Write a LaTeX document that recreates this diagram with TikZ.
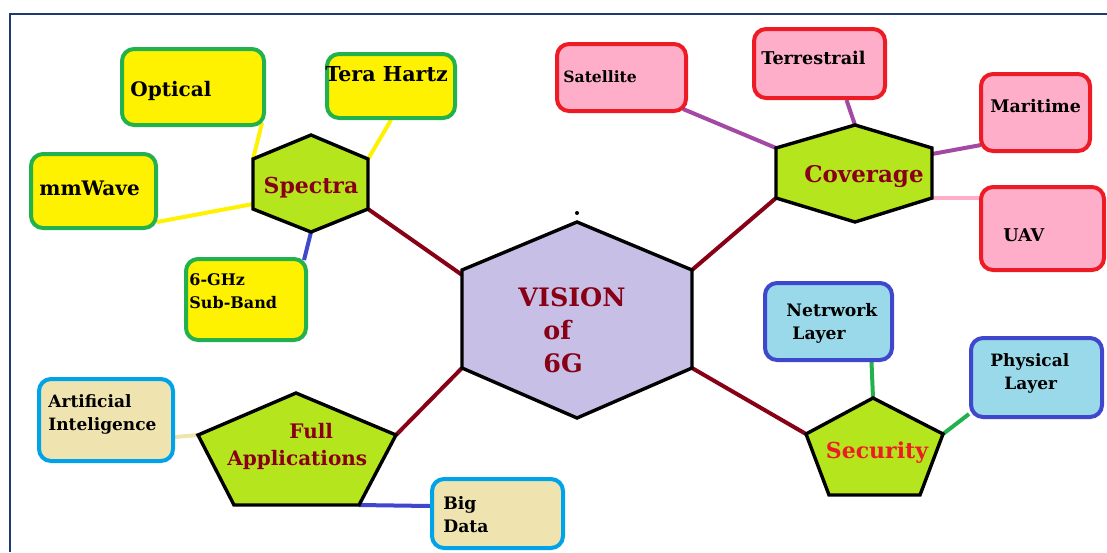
\documentclass[tikz,border=0pt]{standalone}
\usepackage{fontspec}
\setmainfont{DejaVu Serif}
\usetikzlibrary{calc, backgrounds}
\definecolor{paintyellow}{HTML}{FFF200}
\definecolor{paintgreen}{HTML}{22B14C}
\definecolor{paintpink}{HTML}{FFAEC9}
\definecolor{paintred}{HTML}{ED1C24}
\definecolor{painttur}{HTML}{99D9EA}
\definecolor{paintindigo}{HTML}{3F48CC}
\definecolor{painttan}{HTML}{EFE4B0}
\definecolor{paintsky}{HTML}{00A2E8}
\definecolor{paintlime}{HTML}{B5E61D}
\definecolor{paintlavender}{HTML}{C8BFE7}
\definecolor{paintmaroon}{HTML}{880015}
\definecolor{paintpurple}{HTML}{A349A4}
\definecolor{framenavy}{HTML}{1F3A6E}

\begin{document}
\begin{tikzpicture}[
    x=0.5pt, y=-0.5pt,
    leafbox/.style={rectangle, rounded corners=6pt, line width=2pt, inner sep=0pt},
    spectrabox/.style={leafbox, draw=paintgreen, fill=paintyellow},
    coverbox/.style={leafbox, draw=paintred, fill=paintpink},
    appbox/.style={leafbox, draw=paintsky, fill=painttan},
    securebox/.style={leafbox, draw=paintindigo, fill=painttur},
    hubshape/.style={draw=black, line width=1.7pt, fill=paintlime, line join=miter},
    leaftext/.style={anchor=base west, inner sep=0pt, align=left, font=\fontsize{#1}{11.5}\selectfont\bfseries},
    hubtext/.style 2 args={inner sep=0pt, text=paintmaroon, font=\fontsize{#1}{#2}\selectfont\bfseries},
    link/.style={line width=2pt}
]
\useasboundingbox (0,0) rectangle (1107,552);
\draw[framenavy, line width=1pt] (10,552) -- (10,14) -- (1107,14);

% hub shapes
\draw[hubshape, fill=paintlavender] (462,270) coordinate (vis-ul) -- (577,222) coordinate (vis-t) -- (692,270) coordinate (vis-ur)
    -- (692,368) coordinate (vis-lr) -- (577,418) coordinate (vis-b) -- (462,368) coordinate (vis-ll) -- cycle;
\fill (577,213) circle (1pt);
\draw[hubshape] (253,159) coordinate (spe-ul) -- (311,135) coordinate (spe-t) -- (368,159) coordinate (spe-ur)
    -- (368,209) coordinate (spe-lr) -- (311,232) coordinate (spe-b) -- (253,209) coordinate (spe-ll) -- cycle;
\draw[hubshape] (776,148) coordinate (cov-ul) -- (855,125) coordinate (cov-t) -- (932,148) coordinate (cov-ur)
    -- (932,198) coordinate (cov-lr) -- (855,222) coordinate (cov-b) -- (776,198) coordinate (cov-ll) -- cycle;
\draw[hubshape] (198,435) coordinate (fa-ul) -- (296,393) coordinate (fa-t) -- (396,435) coordinate (fa-ur)
    -- (359,505) coordinate (fa-lr) -- (234,505) coordinate (fa-ll) -- cycle;
\draw[hubshape] (806,434) coordinate (sec-ul) -- (873,398) coordinate (sec-t) -- (943,434) coordinate (sec-ur)
    -- (920,495) coordinate (sec-lr) -- (829,495) coordinate (sec-ll) -- cycle;

\node[hubtext={12.7}{16.5}, anchor=base west, align=left] (vision) at (518,372) {VISION\\\hspace*{12.5pt}of\\\hspace*{12.5pt}6G};
\node[hubtext={11}{13}, anchor=base] (spectra) at (311,193) {Spectra};
\node[hubtext={11.5}{13}, anchor=base] (coverage) at (864,182) {Coverage};
\node[hubtext={10}{13.5}, anchor=base west, align=left] (fullapp) at (227,465) {\hspace*{31pt}Full\\Applications};
\node[hubtext={11}{13}, text=paintred, anchor=base] (security) at (877,458) {Security};

% leaf boxes
\node[spectrabox, minimum width=71pt, minimum height=38pt] (optical) at (193,87) {};
\node[spectrabox, minimum width=64pt, minimum height=32pt] (terahz) at (391,86) {};
\node[spectrabox, minimum width=62.5pt, minimum height=37pt] (mmwave) at (93.5,191) {};
\node[spectrabox, minimum width=60pt, minimum height=40.5pt] (sixghz) at (246,299.5) {};
\node[coverbox, minimum width=64.5pt, minimum height=33.5pt] (satellite) at (621.5,77.5) {};
\node[coverbox, minimum width=65.5pt, minimum height=34.5pt] (terrestrail) at (819.5,63.5) {};
\node[coverbox, minimum width=54.5pt, minimum height=38.5pt] (maritime) at (1035.5,112.5) {};
\node[coverbox, minimum width=61.5pt, minimum height=41.5pt] (uav) at (1042.5,228.5) {};
\node[appbox, minimum width=67pt, minimum height=41pt] (ai) at (106,420) {};
\node[appbox, minimum width=65.5pt, minimum height=34.5pt] (bigdata) at (497.5,513.5) {};
\node[securebox, minimum width=63.5pt, minimum height=38.5pt] (network) at (828.5,321.5) {};
\node[securebox, minimum width=65.5pt, minimum height=39.5pt] (physical) at (1036.5,377.5) {};

\node[leaftext=10] (optical-txt) at (130,96) {Optical};
\node[leaftext=10.3] (terahz-txt) at (325,81) {Tera Hartz};
\node[leaftext=10] (mmwave-txt) at (39,195) {mmWave};
\node[leaftext=8] (sixghz-txt) at (189,308) {6-GHz\\Sub-Band};
\node[leaftext=7.8] (satellite-txt) at (563,82) {Satellite};
\node[leaftext=8.8] (terrestrail-txt) at (761,64) {Terrestrail};
\node[leaftext=8.7] (maritime-txt) at (990,112) {Maritime};
\node[leaftext=8.8] (uav-txt) at (1003,241) {UAV};
\node[leaftext=8.5] (ai-txt) at (48,430) {Artificial\\Inteligence};
\node[leaftext=8.6] (bigdata-txt) at (443,532) {Big\\Data};
\node[leaftext=8.6] (network-txt) at (786,339) {Netrwork\\\hspace*{3pt}Layer};
\node[leaftext=8.5] (physical-txt) at (990,389) {Physical\\\hspace*{7pt}Layer};

% connectors
\begin{scope}[on background layer]
\draw[link, paintmaroon] (spe-lr) -- ($(vis-ul)!0.05!(vis-ll)$);
\draw[link, paintmaroon] (cov-ll) -- (vis-ur);
\draw[link, paintmaroon] (fa-ur) -- (vis-ll);
\draw[link, paintmaroon] (vis-lr) -- (sec-ul);
\draw[link, paintyellow] ($(optical.south east)+(-4,-4)$) -- (spe-ul);
\draw[link, paintyellow] (terahz.south) -- (spe-ur);
\draw[link, paintyellow] ($(mmwave.south east)+(-1,-8)$) -- ($(spe-ll)!0.1!(spe-ul)$);
\draw[link, paintindigo] ($(sixghz.north east)+(-4,3)$) -- (spe-b);
\draw[link, paintpurple] ($(satellite.south east)+(-5,-4)$) -- (cov-ul);
\draw[link, paintpurple] ($(terrestrail.south)+(27,0)$) -- (cov-t);
\draw[link, paintpurple] ($(maritime.south west)+(2,-8)$) -- ($(cov-ur)!0.12!(cov-lr)$);
\draw[link, paintpink] ($(uav.north west)+(2,13)$) -- (cov-lr);
\draw[link, painttan] ($(ai.east)+(0,17)$) -- (fa-ul);
\draw[link, paintindigo] ($(bigdata.west)+(0,-7.5)$) -- (fa-lr);
\draw[link, paintgreen] ($(network.south)+(43,0)$) -- (sec-t);
\draw[link, paintgreen] ($(physical.south west)+(0,-5)$) -- (sec-ur);
\end{scope}
\end{tikzpicture}
\end{document}
